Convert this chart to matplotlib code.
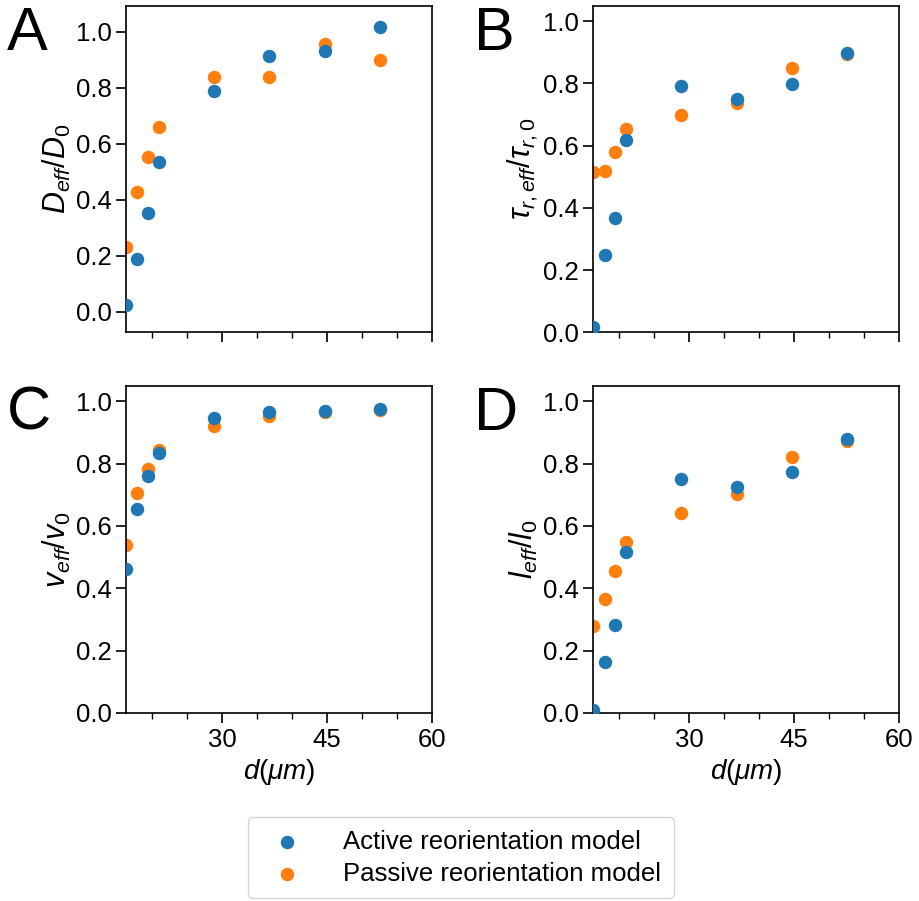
import numpy as np
import matplotlib
matplotlib.use("Agg")
import matplotlib.pyplot as plt
from matplotlib.ticker import MultipleLocator

plt.rcParams['font.family'] = ['Liberation Sans', 'DejaVu Sans']
plt.rcParams['mathtext.fontset'] = 'custom'
plt.rcParams['mathtext.rm'] = 'Liberation Sans'
plt.rcParams['mathtext.it'] = 'Liberation Sans:italic'
plt.rcParams['mathtext.bf'] = 'Liberation Sans:bold'

d = [16.3, 17.9, 19.4, 21.0, 28.9, 36.8, 44.7, 52.6]

D_active = [0.024, 0.189, 0.351, 0.533, 0.788, 0.914, 0.930, 1.017]
D_passive = [0.230, 0.426, 0.552, 0.658, 0.837, 0.838, 0.955, 0.899]

tau_active = [0.016, 0.248, 0.368, 0.619, 0.793, 0.749, 0.797, 0.899]
tau_passive = [0.514, 0.520, 0.579, 0.654, 0.697, 0.736, 0.851, 0.894]

v_active = [0.461, 0.655, 0.759, 0.835, 0.946, 0.965, 0.970, 0.975]
v_passive = [0.540, 0.705, 0.783, 0.843, 0.922, 0.951, 0.965, 0.972]

l_active = [0.010, 0.164, 0.281, 0.517, 0.752, 0.725, 0.774, 0.880]
l_passive = [0.279, 0.367, 0.454, 0.550, 0.643, 0.701, 0.821, 0.872]

panels = [
    ("A", D_active, D_passive, r"$D_{eff}/D_0$", (-0.074, 1.093)),
    ("B", tau_active, tau_passive, r"$\tau_{r,eff}/\tau_{r,0}$", (0, 1.05)),
    ("C", v_active, v_passive, r"$v_{eff}/v_0$", (0, 1.05)),
    ("D", l_active, l_passive, r"$l_{eff}/l_0$", (0, 1.05)),
]

fig = plt.figure(figsize=(9.2, 9.01), dpi=100)
rects = [
    [0.137, 0.6312, 0.3323, 0.3625],
    [0.6449, 0.6312, 0.3323, 0.3625],
    [0.137, 0.2087, 0.3323, 0.3633],
    [0.6449, 0.2087, 0.3323, 0.3633],
]

blue = '#1f77b4'
orange = '#ff7f0e'

for i, (letter, act, pas, ylab, ylim) in enumerate(panels):
    ax = fig.add_axes(rects[i])
    hp = ax.scatter(d, pas, s=75, color=orange, zorder=2)
    ha = ax.scatter(d, act, s=75, color=blue, zorder=3)
    ax.set_xlim(16.3, 60)
    ax.set_ylim(*ylim)
    ax.set_xticks([30, 45, 60])
    ax.xaxis.set_minor_locator(MultipleLocator(5))
    ax.set_yticks([0.0, 0.2, 0.4, 0.6, 0.8, 1.0])
    ax.tick_params(axis='both', which='major', labelsize=18.5, length=7, width=1.2)
    ax.tick_params(axis='x', which='minor', length=4, width=1.0)
    for sp in ax.spines.values():
        sp.set_linewidth(1.2)
    ax.set_ylabel(ylab, fontsize=22, labelpad=2)
    if i < 2:
        ax.tick_params(axis='x', labelbottom=False)
    else:
        ax.set_xlabel(r"$d(\mu m)$", fontsize=20, labelpad=4)
    ax.text(-0.39, 1.0, letter, transform=ax.transAxes, fontsize=44,
            ha='left', va='top')

fig.legend([ha, hp], ['Active reorientation model', 'Passive reorientation model'],
           loc='lower center', bbox_to_anchor=(0.501, 0.0), fontsize=18.5,
           frameon=True, borderpad=0.5, handletextpad=1.2, labelspacing=0.3,
           borderaxespad=0.1)

fig.savefig("out.png", dpi=100)
